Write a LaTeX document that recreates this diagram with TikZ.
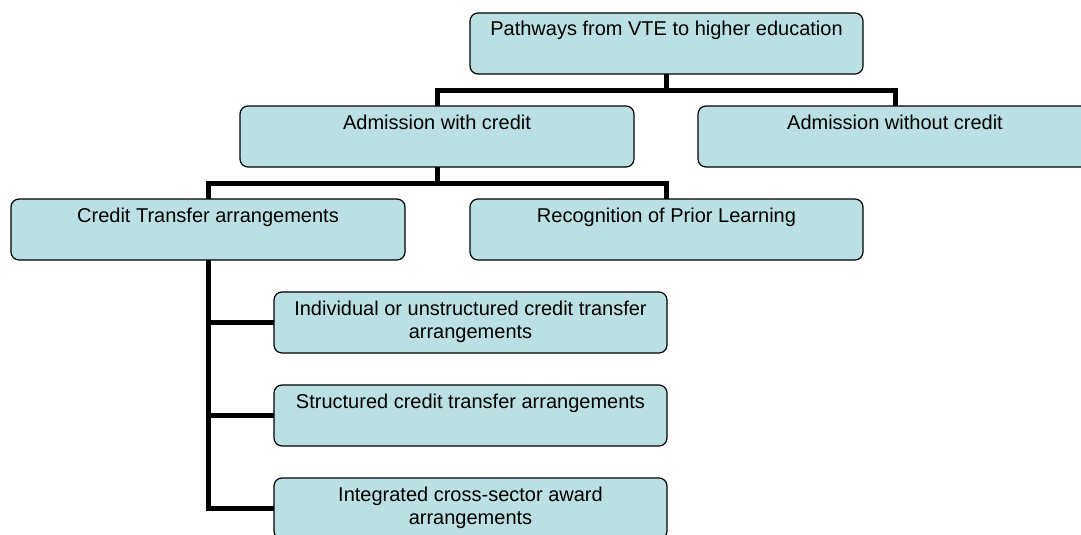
\documentclass[tikz,border=0pt]{standalone}
\usepackage{fontspec}
\setmainfont{Liberation Sans}
\definecolor{boxfill}{RGB}{186,224,227}
\newcommand{\bxt}[3]{\parbox[t][#2][t]{#1}{\centering\fontsize{20}{23}\selectfont\rule{0pt}{23pt}#3\par}}
\tikzset{
  pbox/.style={draw=black, line width=1.2pt, fill=boxfill, rounded corners=8pt, inner sep=0pt, outer sep=0pt, anchor=north west},
  conn/.style={draw=black, line width=5pt}
}
\begin{document}
\begin{tikzpicture}[x=1pt, y=-1pt]
\useasboundingbox (0,0) rectangle (1081,535);
\node[pbox] (top) at (470,13) {\bxt{393pt}{61pt}{Pathways from VTE to higher education}};
\node[pbox] (awc) at (240,106) {\bxt{394pt}{61pt}{Admission with credit}};
\node[pbox] (awoc) at (698,106) {\bxt{394pt}{61pt}{Admission without credit}};
\node[pbox] (ct) at (11,199) {\bxt{394pt}{61pt}{Credit Transfer arrangements}};
\node[pbox] (rpl) at (470,199) {\bxt{393pt}{61pt}{Recognition of Prior Learning}};
\node[pbox] (ind) at (274,292) {\bxt{393pt}{61pt}{Individual or unstructured credit transfer\\arrangements}};
\node[pbox] (str) at (274,385) {\bxt{393pt}{61pt}{Structured credit transfer arrangements}};
\node[pbox] (int) at (274,478) {\bxt{393pt}{61pt}{Integrated cross-sector award\\arrangements}};
\coordinate (j1) at (667,90);
\coordinate (j2) at (437,183);
\draw[conn] (top.south) -- (top.south |- j1);
\draw[conn] (awc.north) -- (awc.north |- j1) -| (awoc.north);
\draw[conn] (awc.south) -- (awc.south |- j2);
\draw[conn] (ct.north) -- (ct.north |- j2) -| (rpl.north);
\draw[conn] (ct.south) |- (int.west);
\draw[conn] (ind.west) -- (ind.west -| ct.south);
\draw[conn] (str.west) -- (str.west -| ct.south);
\end{tikzpicture}
\end{document}
